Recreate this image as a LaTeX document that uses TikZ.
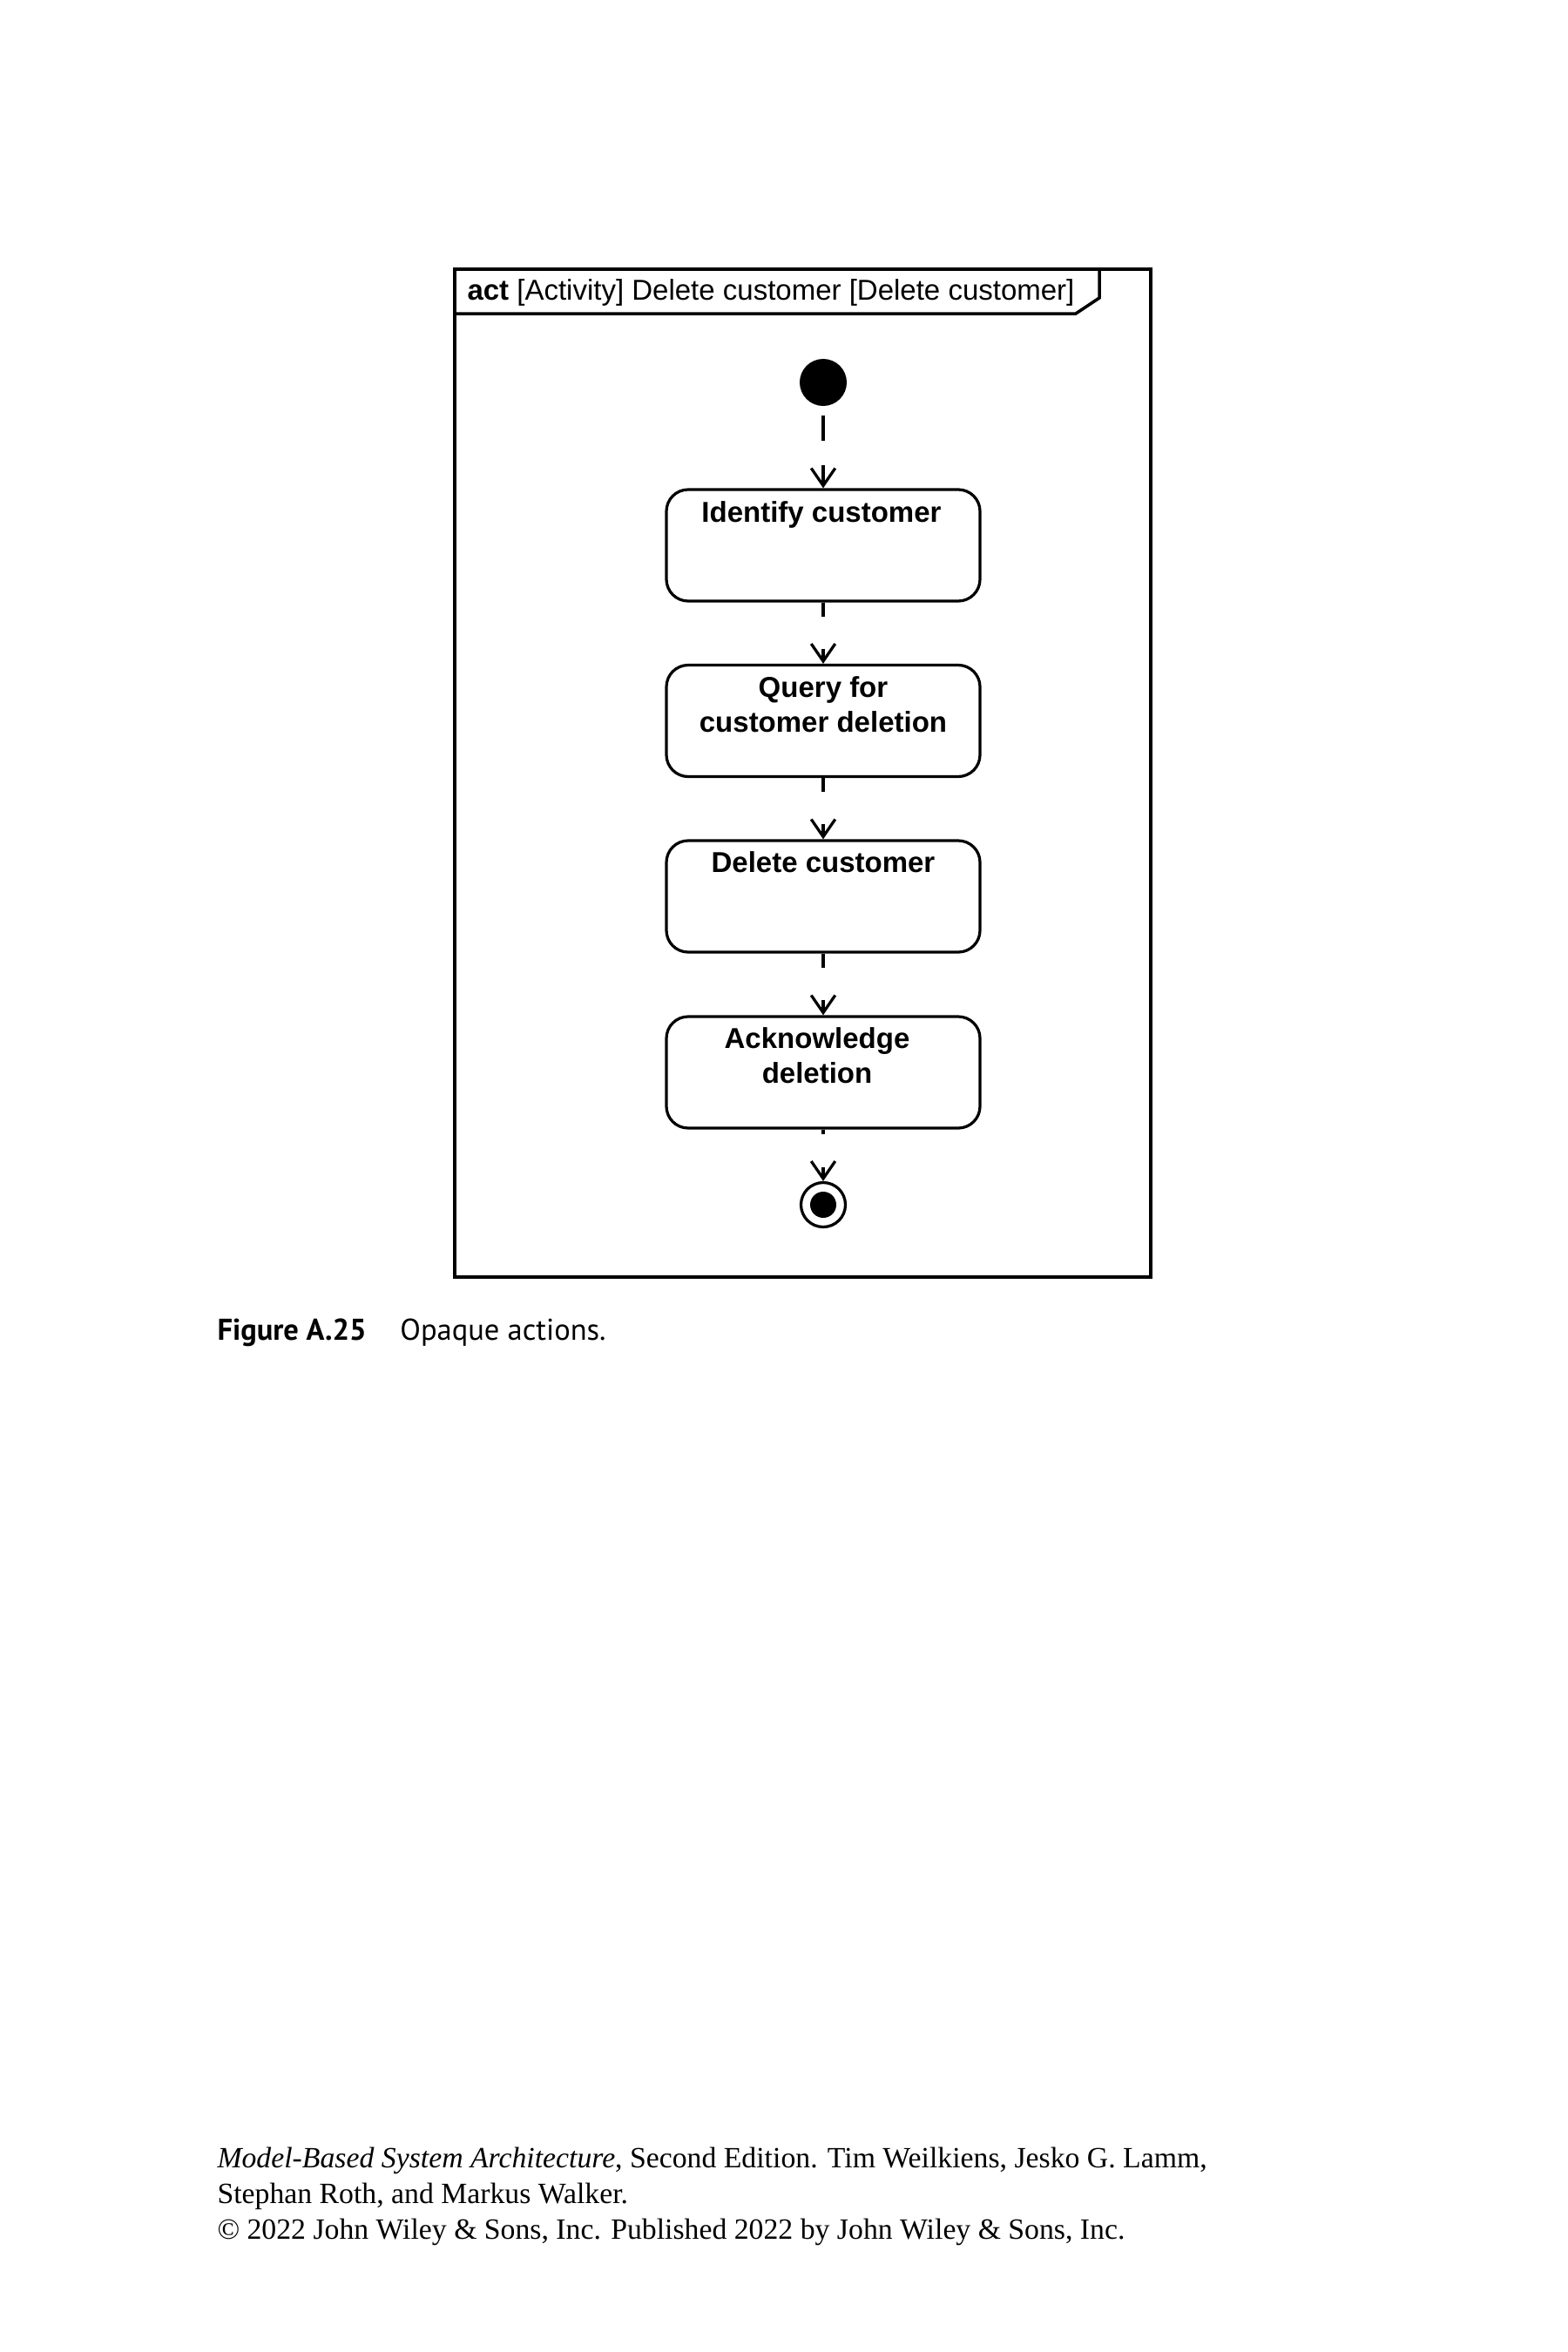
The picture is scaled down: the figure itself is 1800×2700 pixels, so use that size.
\documentclass[tikz,border=0pt]{standalone}
\usepackage{fontspec}
\setmainfont{Liberation Sans}
\newfontfamily\capfont{PT Sans}
\newfontfamily\footfont{Liberation Serif}
\usetikzlibrary{arrows.meta,calc}
\begin{document}
\begin{tikzpicture}[x=0.4pt,y=-0.4pt,
  action/.style={draw, line width=1.3pt, rounded corners=10pt, minimum width=144pt, minimum height=51.2pt, inner sep=0pt},
  acttext/.style={anchor=base, align=center, font=\fontsize{13.2pt}{16pt}\selectfont\bfseries, inner sep=0pt},
  initnode/.style={circle, fill, minimum size=21.6pt, inner sep=0pt},
  finalnode/.style={circle, draw, line width=1.3pt, minimum size=20.4pt, inner sep=0pt},
  flow/.style={line width=1.3pt, -{Straight Barb[length=8pt,width=11pt,line width=1.3pt]}},
  frameline/.style={line width=1.4pt},
]
\useasboundingbox (0,0) rectangle (1800,2700);
\fill[white] (0,0) rectangle (1800,2700);

% frame
\draw[frameline] (522,309) rectangle (1321,1466);
\draw[frameline] (522,360) -- (1235,360) -- (1262,342) -- (1262,309);
\node[anchor=base west, inner sep=0pt, font=\fontsize{13.2pt}{16pt}\selectfont] (hdr) at (536,344) {\textbf{act} [Activity] Delete customer [Delete customer]};

% nodes
\node[initnode] (init) at (945,439) {};
\node[action] (a1) at (945,626) {};
\node[action] (a2) at (945,827.5) {};
\node[action] (a3) at (945,1029) {};
\node[action] (a4) at (945,1231) {};
\node[finalnode] (fin) at (945,1383) {};
\fill (fin.center) circle [radius=6pt];

\node[acttext] (t1) at (943,599) {Identify customer};
\node[acttext] (t2) at (945,840) {Query for\\customer deletion};
\node[acttext] (t3) at (945,1001) {Delete customer};
\node[acttext] (t4) at (938,1243) {Acknowledge\\deletion};

% flows
\draw[flow, dash pattern=on 0pt off 4pt on 11.6pt off 11.2pt on 80pt] (init) -- (a1);
\draw[flow, dash pattern=on 6.4pt off 14.8pt on 80pt] (a1) -- (a2);
\draw[flow, dash pattern=on 6.4pt off 14.8pt on 80pt] (a2) -- (a3);
\draw[flow, dash pattern=on 6.4pt off 14.8pt on 80pt] (a3) -- (a4);
\draw[flow, dash pattern=on 2pt off 15.2pt on 80pt] (a4) -- (fin);

% caption
\node[anchor=base west, inner sep=0pt, font=\capfont\fontsize{13.8pt}{16pt}\selectfont] (cap) at (249,1538) {\textbf{Figure A.25}\hspace{15.5pt}Opaque actions.};

% footer
\node[anchor=base west, inner sep=0pt, align=left, font=\footfont\fontsize{13.5pt}{16.4pt}\selectfont] (foot) at (249,2570) {\textit{Model-Based System Architecture}, Second Edition. Tim Weilkiens, Jesko G. Lamm,\\Stephan Roth, and Markus Walker.\\\textcopyright{} 2022 John Wiley \& Sons, Inc. Published 2022 by John Wiley \& Sons, Inc.};
\end{tikzpicture}
\end{document}
